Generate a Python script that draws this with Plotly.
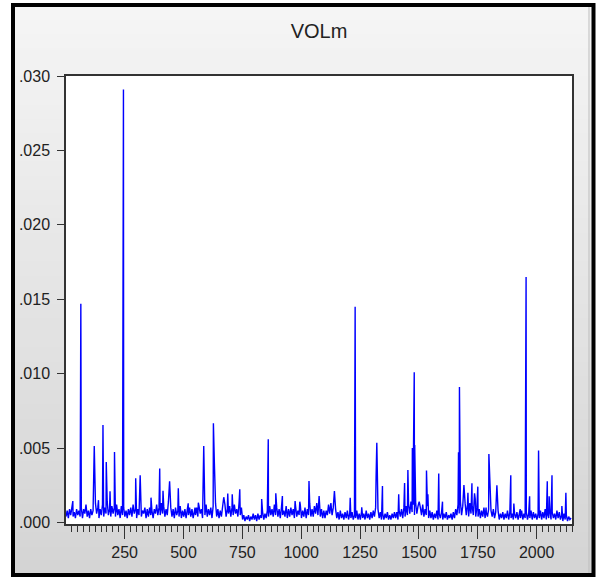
import plotly.graph_objects as go

# Baseline of VOLm (units of 1e-4), one reading every 5 observations starting at obs 1
base_start = 1
base_step = 5
base_e4 = [
    4, 8, 3, 9, 5, 11, 4, 7, 3, 9,
    5, 8, 4, 10, 3, 9, 6, 12, 4, 8,
    3, 9, 5, 8, 4, 13, 6, 10, 3, 9,
    5, 12, 4, 10, 6, 14, 5, 9, 4, 11,
    6, 10, 4, 12, 5, 9, 3, 11, 5, 10,
    4, 8, 3, 9, 5, 10, 4, 12, 6, 9,
    3, 9, 5, 11, 4, 8, 6, 10, 3, 9,
    4, 10, 5, 8, 3, 9, 6, 12, 5, 10,
    5, 13, 6, 11, 4, 9, 5, 14, 6, 10,
    4, 9, 3, 10, 5, 8, 4, 11, 3, 8,
    4, 9, 3, 8, 5, 10, 4, 9, 3, 8,
    5, 10, 4, 11, 6, 9, 3, 8, 5, 12,
    4, 9, 5, 10, 3, 11, 6, 13, 4, 9,
    3, 8, 4, 10, 5, 12, 4, 9, 6, 11,
    4, 10, 5, 12, 6, 9, 4, 13, 5, 10,
    2, 5, 1, 4, 2, 5, 1, 4, 2, 6,
    2, 5, 1, 6, 2, 5, 3, 7, 2, 6,
    3, 8, 4, 11, 5, 9, 4, 12, 5, 10,
    4, 9, 3, 10, 5, 8, 4, 11, 3, 9,
    4, 10, 5, 9, 3, 11, 4, 8, 5, 12,
    3, 8, 4, 10, 3, 9, 5, 13, 4, 9,
    4, 11, 6, 13, 5, 12, 4, 9, 3, 8,
    3, 8, 5, 12, 6, 13, 5, 10, 4, 9,
    3, 7, 2, 8, 3, 6, 2, 7, 3, 8,
    2, 6, 3, 7, 2, 5, 3, 8, 2, 6,
    2, 7, 3, 6, 2, 8, 3, 6, 2, 7,
    3, 8, 4, 10, 5, 9, 3, 7, 2, 6,
    2, 6, 3, 7, 2, 5, 2, 6, 3, 7,
    3, 7, 2, 8, 4, 9, 3, 10, 4, 11,
    5, 12, 6, 14, 7, 12, 5, 13, 6, 11,
    4, 10, 5, 12, 4, 9, 5, 11, 3, 8,
    3, 7, 2, 6, 3, 8, 2, 6, 3, 7,
    2, 6, 3, 7, 2, 5, 3, 6, 2, 7,
    3, 9, 5, 12, 6, 14, 5, 11, 6, 13,
    5, 12, 4, 13, 6, 11, 5, 14, 4, 10,
    4, 9, 3, 8, 4, 10, 3, 7, 4, 9,
    3, 8, 4, 9, 3, 7, 4, 8, 2, 6,
    3, 7, 2, 6, 3, 8, 2, 7, 3, 6,
    2, 6, 3, 7, 2, 5, 3, 8, 2, 6,
    3, 7, 2, 6, 3, 8, 2, 7, 3, 6,
    2, 6, 3, 8, 2, 7, 3, 9, 2, 6,
    3, 8, 2, 7, 3, 6, 2, 8, 3, 7,
    2, 5, 1, 6, 2, 5, 1, 4, 2, 3,
]

# Spikes: observation number and VOLm value
spike_obs = [30, 64, 121, 139, 158, 172, 188, 207, 243, 245, 297, 316, 362, 399,
             413, 441, 478, 520, 549, 563, 586, 627, 631, 671, 688, 707, 739, 832,
             860, 892, 920, 974, 994, 1033, 1076, 1141, 1208, 1229, 1257, 1318,
             1321, 1345, 1414, 1439, 1453, 1472, 1477, 1480, 1482, 1501, 1532,
             1538, 1584, 1600, 1668, 1672, 1691, 1708, 1725, 1736, 1739, 1750,
             1785, 1797, 1801, 1831, 1890, 1903, 1930, 1955, 1970, 2008, 2045,
             2053, 2065, 2107, 2124]
spike_val = [0.00144, 0.0147, 0.00514, 0.0015, 0.00655, 0.00407, 0.0021, 0.00474,
             0.0148, 0.0291, 0.00297, 0.00317, 0.00167, 0.00362, 0.00214, 0.00277,
             0.0023, 0.00129, 0.0010, 0.00133, 0.00514, 0.00667, 0.00407, 0.0017,
             0.00195, 0.0019, 0.00223, 0.00158, 0.00559, 0.00196, 0.00178, 0.00144,
             0.0014, 0.00279, 0.00178, 0.00212, 0.00167, 0.0145, 0.00102, 0.00308,
             0.00536, 0.00245, 0.00189, 0.00265, 0.00353, 0.0050, 0.0053, 0.0101,
             0.0052, 0.0014, 0.0035, 0.0019, 0.0033, 0.0014, 0.00472, 0.0091,
             0.00252, 0.0020, 0.00263, 0.00196, 0.0016, 0.00241, 0.0010, 0.0046,
             0.0024, 0.0025, 0.00317, 0.00127, 0.0009, 0.0165, 0.00177, 0.00483,
             0.00277, 0.00177, 0.00317, 0.0011, 0.0020]

y_tickvals = [0.000, 0.005, 0.010, 0.015, 0.020, 0.025, 0.030]
y_ticktext = [".000", ".005", ".010", ".015", ".020", ".025", ".030"]
x_tickvals = [250, 500, 750, 1000, 1250, 1500, 1750, 2000]

# merge baseline and spikes into one series
series = {}
for i, v in enumerate(base_e4):
    series[base_start + i * base_step] = v / 1e4
for o, v in zip(spike_obs, spike_val):
    series[o] = v
obs = sorted(series)
vals = [series[o] for o in obs]

W, H = 598, 577
L, R, T, B = 66, 572, 76, 524
FONT = "Liberation Sans Narrow, Arial Narrow, Liberation Sans, Arial, sans-serif"

fig = go.Figure()
fig.add_trace(go.Scatter(x=obs, y=vals, mode="lines",
                         line=dict(color="#0000ff", width=1.4), hoverinfo="skip"))


def px(X):
    return (X - L) / (R - L)


def py(Y):
    return (B - Y) / (B - T)


shapes = []
# gradient background inside the outer frame
n = 40
top, bot = 5, 575
for k in range(n):
    y0 = top + (bot - top) * k / n
    y1 = top + (bot - top) * (k + 1) / n + 1
    t = k / (n - 1)
    c = int(round(245 - t * (245 - 212)))
    shapes.append(dict(type="rect", xref="paper", yref="paper",
                       x0=px(12), x1=px(594), y0=py(y1), y1=py(y0),
                       fillcolor=f"rgb({c},{c},{c})", line=dict(width=0),
                       layer="below"))
# white plot area
shapes.append(dict(type="rect", xref="paper", yref="paper", x0=0, x1=1, y0=0, y1=1,
                   fillcolor="white", line=dict(width=0), layer="below"))
# light inner edge on the right side
shapes.append(dict(type="line", xref="paper", yref="paper", x0=px(589), x1=px(589),
                   y0=py(6), y1=py(574), line=dict(color="#bdbdbd", width=1)))
# outer black frame
shapes.append(dict(type="rect", xref="paper", yref="paper",
                   x0=px(13), x1=px(593.5), y0=py(575), y1=py(5),
                   line=dict(color="black", width=4)))

fig.update_layout(
    width=W, height=H,
    margin=dict(l=L, r=W - R, t=T, b=H - B, autoexpand=False),
    paper_bgcolor="white", plot_bgcolor="rgba(0,0,0,0)",
    showlegend=False,
    shapes=shapes,
    title=dict(text="VOLm", x=px(319), xref="paper", xanchor="center",
               y=1 - 31 / H, yanchor="middle",
               font=dict(family=FONT, size=20, color="#222222")),
    font=dict(family=FONT, size=16, color="#222222"),
)
fig.update_xaxes(range=[1, 2150], tickvals=x_tickvals, ticks="outside", ticklen=13,
                 tickwidth=1.2, tickcolor="#333333",
                 minor=dict(dtick=25, tick0=0, ticks="outside", ticklen=6,
                            tickcolor="#333333", tickwidth=1),
                 showgrid=False, zeroline=False, showline=True, linecolor="#333333",
                 linewidth=1.5, mirror=True, tickfont=dict(family=FONT, size=16))
fig.update_yaxes(range=[-0.0001, 0.030], tickvals=y_tickvals, ticktext=y_ticktext,
                 ticks="outside", ticklen=7, tickwidth=1.2, tickcolor="#333333",
                 ticklabelstandoff=4,
                 showgrid=False, zeroline=False, showline=True, linecolor="#333333",
                 linewidth=1.5, mirror=True, tickfont=dict(family=FONT, size=16))

fig.write_html("out.html")
